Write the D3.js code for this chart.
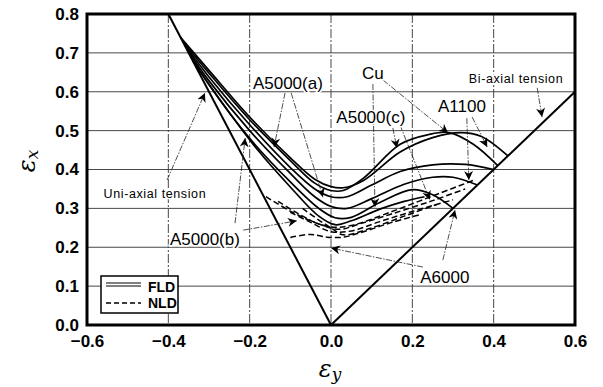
<!DOCTYPE html>
<html>
<head>
<meta charset="utf-8">
<script src="https://cdn.jsdelivr.net/npm/d3@7"></script>
<style>
  body { margin: 0; background: #fff; }
  text { font-family: "Liberation Sans", Arial, sans-serif; fill: #000; }
</style>
</head>
<body>
<div id="chart"></div>
<script>
/*------ Data (strain values: [eps_y, eps_x]) ------*/

const xTicks = [-0.6, -0.4, -0.2, 0.0, 0.2, 0.4, 0.6];
const yTicks = [0.0, 0.1, 0.2, 0.3, 0.4, 0.5, 0.6, 0.7, 0.8];

// Reference strain paths
const uniaxialPath = [[0, 0], [-0.4, 0.8]];
const biaxialPath = [[0, 0], [0.6, 0.6]];

// Forming limit curves (solid)
const fldA1100a = [[-0.37, 0.74], [-0.3, 0.655], [-0.2, 0.535], [-0.1, 0.43], [-0.04, 0.375], [0.0, 0.356], [0.03, 0.353], [0.08, 0.372], [0.17, 0.445], [0.25, 0.482], [0.32, 0.495], [0.37, 0.485], [0.435, 0.435]];
const fldCu = [[-0.365, 0.73], [-0.3, 0.648], [-0.2, 0.528], [-0.1, 0.423], [-0.04, 0.365], [0.0, 0.346], [0.03, 0.346], [0.08, 0.378], [0.17, 0.465], [0.24, 0.49], [0.29, 0.495], [0.35, 0.465], [0.41, 0.41]];
const fldA1100b = [[-0.36, 0.72], [-0.3, 0.638], [-0.2, 0.515], [-0.1, 0.405], [-0.04, 0.35], [0.0, 0.33], [0.04, 0.33], [0.1, 0.36], [0.17, 0.395], [0.25, 0.412], [0.33, 0.413], [0.4, 0.4]];
const fldA5000c = [[-0.355, 0.71], [-0.3, 0.628], [-0.2, 0.5], [-0.1, 0.39], [-0.04, 0.33], [0.0, 0.305], [0.04, 0.3], [0.1, 0.325], [0.18, 0.362], [0.25, 0.38], [0.3, 0.38], [0.36, 0.36]];
const fldA6000 = [[-0.35, 0.7], [-0.3, 0.618], [-0.2, 0.48], [-0.1, 0.368], [-0.03, 0.3], [0.01, 0.276], [0.05, 0.277], [0.12, 0.315], [0.2, 0.348], [0.25, 0.335], [0.3, 0.3]];
const fldA5000b = [[-0.34, 0.68], [-0.28, 0.59], [-0.18, 0.45], [-0.1, 0.355], [-0.03, 0.28], [0.01, 0.258], [0.05, 0.268], [0.12, 0.298], [0.18, 0.318], [0.23, 0.33]];

// Necking limit curves (dashed)
const nld1 = [[-0.16, 0.33], [-0.1, 0.293], [-0.05, 0.268], [0.0, 0.252], [0.05, 0.256], [0.15, 0.292], [0.25, 0.332], [0.35, 0.372]];
const nld2 = [[-0.13, 0.318], [-0.08, 0.286], [-0.03, 0.26], [0.02, 0.246], [0.07, 0.26], [0.15, 0.286], [0.25, 0.32], [0.33, 0.35]];
const nld3 = [[-0.1, 0.29], [-0.05, 0.264], [0.0, 0.24], [0.05, 0.242], [0.12, 0.266], [0.2, 0.292], [0.3, 0.322]];
const nld4 = [[-0.1, 0.225], [-0.05, 0.233], [-0.01, 0.226], [0.03, 0.226], [0.08, 0.24], [0.15, 0.264], [0.22, 0.284]];
const nld5 = [[-0.07, 0.3], [-0.03, 0.27], [0.0, 0.25], [0.03, 0.232], [0.1, 0.25], [0.18, 0.28], [0.26, 0.31]];

const fldCurves = [fldA1100a, fldCu, fldA1100b, fldA5000c, fldA6000, fldA5000b];
const nldCurves = [nld1, nld2, nld3, nld4, nld5];

// Annotation labels: text and centre point [eps_y, eps_x]
const labelTexts = ['A5000(a)', 'Cu', 'A5000(c)', 'A1100', 'Bi-axial tension', 'Uni-axial tension', 'A5000(b)', 'A6000'];
const labelPoints = [[-0.106, 0.622], [0.103, 0.648], [0.098, 0.535], [0.322, 0.561], [0.455, 0.633], [-0.433, 0.337], [-0.31, 0.221], [0.28, 0.123]];

// Leader lines: from -> to (arrow head at 'to')
const leaderFrom = [[-0.403, 0.373], [-0.236, 0.262], [-0.216, 0.244], [-0.113, 0.597], [-0.098, 0.597], [0.128, 0.63], [0.103, 0.62], [0.152, 0.507], [0.17, 0.514], [0.347, 0.535], [0.334, 0.532], [0.507, 0.61], [0.275, 0.167], [0.226, 0.149]];
const leaderTo = [[-0.31, 0.597], [-0.211, 0.481], [-0.084, 0.268], [-0.14, 0.458], [-0.02, 0.329], [0.288, 0.494], [0.108, 0.303], [0.162, 0.455], [0.243, 0.322], [0.384, 0.458], [0.339, 0.373], [0.519, 0.535], [0.305, 0.296], [0.0, 0.198]];

const legendNames = ['FLD', 'NLD'];

/*------ Setup ------*/

function initDimensions() {
    const margin = { top: 14, right: 28, bottom: 62, left: 87 },
        width = 603 - margin.left - margin.right,
        height = 387 - margin.top - margin.bottom;
    return [margin, width, height];
}

function initSVG(margin) {
    const root = d3.select('#chart')
        .append('svg')
        .attr('width', 603)
        .attr('height', 387);
    const svg = root.append('g')
        .attr('transform', 'translate(' + margin.left + ',' + margin.top + ')');
    return [root, svg];
}

const [margin, width, height] = initDimensions();
const [root, svg] = initSVG(margin);

const xScale = d3.scaleLinear().domain([-0.6, 0.6]).range([0, width]);
const yScale = d3.scaleLinear().domain([0, 0.8]).range([height, 0]);

// Arrow head marker
root.append('defs').append('marker')
    .attr('id', 'head')
    .attr('viewBox', '0 0 10 10')
    .attr('refX', 10).attr('refY', 5)
    .attr('markerWidth', 9).attr('markerHeight', 9)
    .attr('markerUnits', 'userSpaceOnUse')
    .attr('orient', 'auto')
    .append('path')
    .attr('d', 'M0,0 L10,5 L0,10 L3,5 Z')
    .attr('fill', '#000');

/*------ Grid ------*/

svg.append('g')
    .selectAll('line')
    .data(yTicks.slice(1, -1))
    .join('line')
    .attr('x1', 0).attr('x2', width)
    .attr('y1', d => yScale(d)).attr('y2', d => yScale(d))
    .attr('stroke', '#333').attr('stroke-width', 0.9);

svg.append('g')
    .selectAll('line')
    .data(xTicks.slice(1, -1))
    .join('line')
    .attr('y1', 0).attr('y2', height)
    .attr('x1', d => xScale(d)).attr('x2', d => xScale(d))
    .attr('stroke', '#333').attr('stroke-width', 0.9)
    .attr('stroke-dasharray', '9,2,2,2');

/*------ Axes ------*/

const xAxis = d3.axisBottom(xScale).tickValues(xTicks).tickSize(0).tickPadding(10)
    .tickFormat(d => d3.format('.1f')(d).replace('-', '\u2212'));
const yAxis = d3.axisLeft(yScale).tickValues(yTicks).tickSize(0).tickPadding(8)
    .tickFormat(d3.format('.1f'));

svg.append('g')
    .attr('transform', 'translate(0,' + height + ')')
    .call(xAxis)
    .call(g => g.select('.domain').remove())
    .selectAll('text')
    .attr('font-size', 17).attr('font-weight', 'bold')
    .attr('font-family', '"Liberation Sans", Arial, sans-serif');

svg.append('g')
    .call(yAxis)
    .call(g => g.select('.domain').remove())
    .selectAll('text')
    .attr('font-size', 17).attr('font-weight', 'bold')
    .attr('font-family', '"Liberation Sans", Arial, sans-serif');

// Axis titles
const xTitle = root.append('text')
    .attr('x', 330).attr('y', 377)
    .attr('text-anchor', 'middle')
    .style('font-family', '"DejaVu Serif", "Liberation Serif", serif')
    .style('font-style', 'italic');
xTitle.append('tspan').attr('font-size', 24).text('\u03b5');
xTitle.append('tspan').attr('font-size', 17).attr('dy', 3).text('y');

const yTitle = root.append('text')
    .attr('transform', 'translate(35,161) rotate(-90)')
    .attr('text-anchor', 'middle')
    .style('font-family', '"DejaVu Serif", "Liberation Serif", serif')
    .style('font-style', 'italic');
yTitle.append('tspan').attr('font-size', 24).text('\u03b5');
yTitle.append('tspan').attr('font-size', 17).attr('dy', 3).text('x');

/*------ Curves ------*/

const straight = d3.line().x(d => xScale(d[0])).y(d => yScale(d[1]));
const smooth = d3.line().x(d => xScale(d[0])).y(d => yScale(d[1]))
    .curve(d3.curveCatmullRom.alpha(0.5));

svg.append('g')
    .selectAll('path')
    .data([uniaxialPath, biaxialPath])
    .join('path')
    .attr('d', straight)
    .attr('fill', 'none').attr('stroke', '#000').attr('stroke-width', 2);

svg.append('g')
    .selectAll('path')
    .data(fldCurves)
    .join('path')
    .attr('d', smooth)
    .attr('fill', 'none').attr('stroke', '#000').attr('stroke-width', 1.7);

svg.append('g')
    .selectAll('path')
    .data(nldCurves)
    .join('path')
    .attr('d', smooth)
    .attr('fill', 'none').attr('stroke', '#000').attr('stroke-width', 1.5)
    .attr('stroke-dasharray', '6,3');

/*------ Annotations ------*/

svg.append('g')
    .selectAll('line')
    .data(leaderFrom)
    .join('line')
    .attr('x1', d => xScale(d[0])).attr('y1', d => yScale(d[1]))
    .attr('x2', (d, i) => xScale(leaderTo[i][0])).attr('y2', (d, i) => yScale(leaderTo[i][1]))
    .attr('stroke', '#222').attr('stroke-width', 0.8)
    .attr('stroke-dasharray', '6,1.5,1.5,1.5')
    .attr('marker-end', 'url(#head)');

svg.append('g')
    .selectAll('text')
    .data(labelTexts)
    .join('text')
    .attr('x', (d, i) => xScale(labelPoints[i][0]))
    .attr('y', (d, i) => yScale(labelPoints[i][1]))
    .attr('text-anchor', 'middle')
    .attr('dominant-baseline', 'central')
    .attr('font-size', d => d.includes('tension') ? 12.5 : 17)
    .attr('letter-spacing', d => d.includes('tension') ? 0.6 : 0)
    .attr('stroke', '#fff').attr('stroke-width', 3)
    .attr('paint-order', 'stroke')
    .text(d => d);

/*------ Legend ------*/

const legend = svg.append('g').attr('transform', 'translate(14,262)');
legend.append('rect')
    .attr('width', 77).attr('height', 37)
    .attr('fill', '#fff').attr('stroke', '#000').attr('stroke-width', 1.5);

legend.selectAll('text')
    .data(legendNames)
    .join('text')
    .attr('x', 47).attr('y', (d, i) => 11 + i * 16)
    .attr('dominant-baseline', 'central')
    .attr('font-size', 14).attr('font-weight', 'bold')
    .text(d => d);

legend.append('line').attr('x1', 5).attr('x2', 40).attr('y1', 7).attr('y2', 7)
    .attr('stroke', '#000').attr('stroke-width', 1);
legend.append('line').attr('x1', 5).attr('x2', 40).attr('y1', 10).attr('y2', 10)
    .attr('stroke', '#000').attr('stroke-width', 1);
legend.append('line').attr('x1', 5).attr('x2', 40).attr('y1', 27).attr('y2', 27)
    .attr('stroke', '#000').attr('stroke-width', 1.4).attr('stroke-dasharray', '5,3');

/*------ Frame ------*/

svg.append('rect')
    .attr('width', width).attr('height', height)
    .attr('fill', 'none').attr('stroke', '#000').attr('stroke-width', 3);
</script>
</body>
</html>
